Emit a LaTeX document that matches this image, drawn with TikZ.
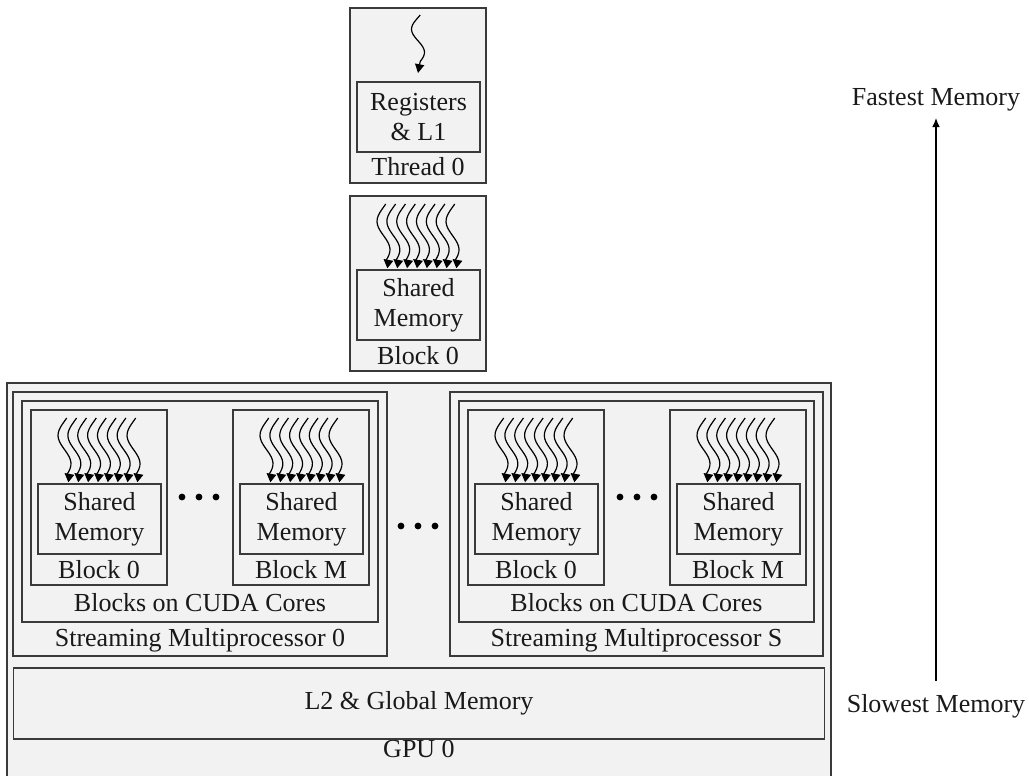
\documentclass[tikz,border=0pt]{standalone}
\usepackage{fontspec}
\setmainfont{Liberation Serif}
\usetikzlibrary{arrows.meta}
\definecolor{memfill}{HTML}{F2F2F2}
\definecolor{memline}{HTML}{3A3A3A}
\tikzset{
  box/.style={draw=memline, fill=memfill, line width=0.8pt},
  lbl/.style={font=\fontsize{13}{15}\selectfont, align=center, inner sep=0pt, text=black!90},
  memnode/.style={box, lbl, minimum width=61.5pt, minimum height=35pt},
  thr/.style={line width=0.6pt, -{Triangle[length=4.4pt,width=4.6pt]}},
  dot/.style={circle, fill=black, inner sep=0pt, minimum size=3.4pt},
  speed/.style={line width=0.6pt, -{Latex[length=4.5pt,width=3.8pt]}},
}
% one thread: x, top, tip
\newcommand{\squig}[3]{%
  \draw[thr] plot[domain=0:1, samples=20, smooth]
    ({#1-6.5*sin(360*\x-20)}, {#2+0.8*(#3-#2)*\x}) -- (#1,#3);}
% a block: left x, top y, label, node name
\newcommand{\cudablock}[4]{%
  \draw[box] (#1,#2) rectangle ++(136,175);
  \foreach \t in {0,...,7}
    \squig{#1+33.5+9.86*\t}{#2+8}{#2+63};
  \node[memnode] (#4) at ({#1+68.5},{#2+109}) {Shared\\Memory};
  \node[lbl, anchor=base] (#4l) at ({#1+68},{#2+168}) {#3};}

\begin{document}
\begin{tikzpicture}[x=0.5pt,y=-0.5pt]
  \useasboundingbox (0,0) rectangle (1029,776);

  % thread
  \draw[box] (350,8) rectangle (486,183);
  \squig{418}{15}{73}
  \node[memnode] (reg) at (418.5,117) {Registers\\\& L1};
  \node[lbl, anchor=base] (thread) at (418,175) {Thread 0};

  % block
  \cudablock{350}{196}{Block 0}{blk}

  % gpu
  \begin{scope}
    \clip (0,0) rectangle (1029,776);
    \draw[box] (7,383) rectangle (831,800);
  \end{scope}
  \node[lbl, anchor=base] (gpu) at (419,757) {GPU 0};

  % streaming multiprocessors
  \draw[box] (13,392) rectangle (387,656);
  \draw[box] (22,401) rectangle (378,622);
  \cudablock{31}{410}{Block 0}{sa}
  \cudablock{233}{410}{Block M}{sb}
  \node[lbl, anchor=base] (cores0) at (200,611) {Blocks on CUDA Cores};
  \node[lbl, anchor=base] (sm0) at (200,646) {Streaming Multiprocessor 0};

  \draw[box] (450,392) rectangle (823,656);
  \draw[box] (459,401) rectangle (814,622);
  \cudablock{468}{410}{Block 0}{sc}
  \cudablock{670}{410}{Block M}{sd}
  \node[lbl, anchor=base] (coress) at (636.5,611) {Blocks on CUDA Cores};
  \node[lbl, anchor=base] (sms) at (636.5,646) {Streaming Multiprocessor S};

  % dots
  \foreach \x in {182,199,216} \node[dot] (d\x) at (\x,497) {};
  \foreach \x in {620,637,654} \node[dot] (e\x) at (\x,497) {};
  \foreach \x in {401,418,435} \node[dot] (m\x) at (\x,526) {};

  % global memory
  \node[box, lbl, minimum width=405.5pt, minimum height=35.5pt] (l2) at (419,703.5) {L2 \& Global Memory};

  % speed arrow
  \node[lbl, anchor=base] (fast) at (936,105) {Fastest Memory};
  \node[lbl, anchor=base] (slow) at (936,712) {Slowest Memory};
  \draw[speed, shorten <=6.5pt, shorten >=3.5pt] (slow) -- (fast);
\end{tikzpicture}
\end{document}
